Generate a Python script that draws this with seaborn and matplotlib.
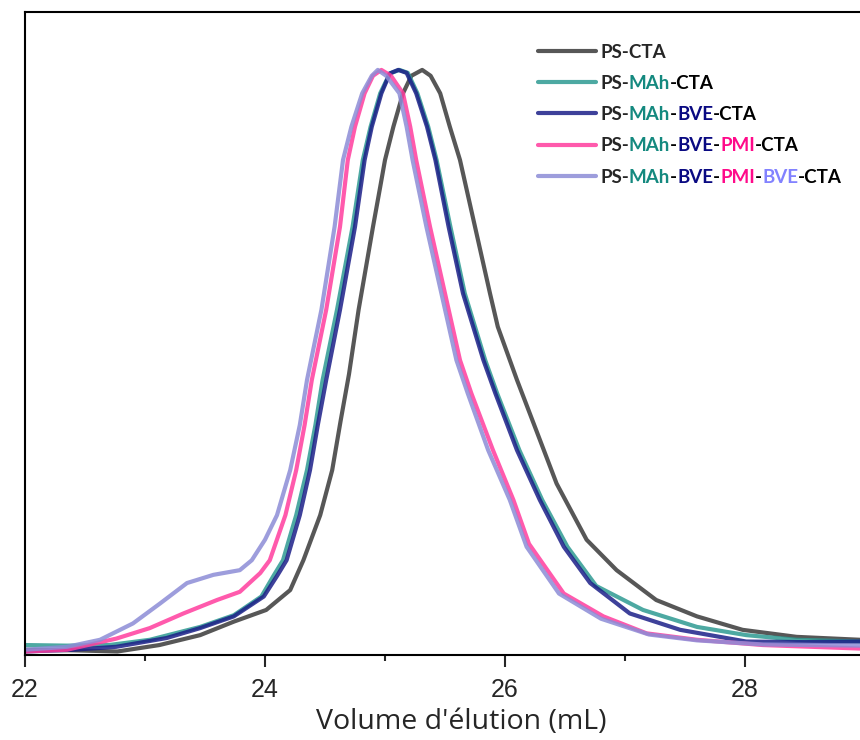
import matplotlib
matplotlib.use("Agg")
import matplotlib.pyplot as plt
from matplotlib.ticker import MultipleLocator
import seaborn as sns

# Chromatogrammes SEC (volume en mL, intensité normalisée)
x_ps = [22.0, 22.4, 22.77, 23.12, 23.46, 23.74, 24.01, 24.21, 24.32, 24.46, 24.56, 24.63,
        24.70, 24.78, 24.90, 24.96, 25.0, 25.07, 25.15, 25.22, 25.31, 25.38, 25.46, 25.54,
        25.625, 25.75, 25.875, 25.94, 26.10, 26.24, 26.43, 26.68, 26.93, 27.26, 27.60, 27.98,
        28.43, 28.96]
y_ps = [0.009, 0.008, 0.006, 0.017, 0.034, 0.057, 0.077, 0.111, 0.162, 0.239, 0.316, 0.400,
        0.480, 0.590, 0.732, 0.800, 0.846, 0.903, 0.960, 0.990, 1.0, 0.990, 0.960, 0.903,
        0.846, 0.732, 0.618, 0.561, 0.470, 0.395, 0.293, 0.197, 0.145, 0.094, 0.066, 0.043,
        0.031, 0.026]

x_mah = [22.0, 22.35, 22.7, 23.04, 23.46, 23.74, 23.97, 24.07, 24.15, 24.26, 24.35, 24.42,
         24.48, 24.60, 24.73, 24.815, 24.88, 24.96, 25.04, 25.12, 25.19, 25.27, 25.36, 25.43,
         25.545, 25.665, 25.835, 25.935, 26.12, 26.31, 26.52, 26.76, 27.15, 27.60, 28.01,
         28.43, 28.96]
y_mah = [0.017, 0.016, 0.017, 0.026, 0.048, 0.068, 0.100, 0.135, 0.162, 0.239, 0.316, 0.393,
         0.470, 0.590, 0.732, 0.846, 0.903, 0.960, 0.994, 1.0, 0.995, 0.960, 0.903, 0.846,
         0.732, 0.618, 0.504, 0.447, 0.350, 0.265, 0.185, 0.118, 0.077, 0.048, 0.034, 0.026,
         0.023]

x_bve = [22.0, 22.4, 22.76, 23.18, 23.46, 23.74, 23.99, 24.10, 24.18, 24.29, 24.375, 24.44,
         24.51, 24.625, 24.75, 24.83, 24.89, 24.97, 25.04, 25.11, 25.18, 25.26, 25.35, 25.42,
         25.53, 25.65, 25.82, 25.92, 26.10, 26.29, 26.49, 26.71, 27.04, 27.46, 28.01, 28.5,
         28.96]
y_bve = [0.006, 0.009, 0.014, 0.029, 0.046, 0.066, 0.100, 0.135, 0.162, 0.239, 0.316, 0.393,
         0.470, 0.590, 0.732, 0.846, 0.903, 0.960, 0.994, 1.0, 0.995, 0.960, 0.903, 0.846,
         0.732, 0.618, 0.504, 0.447, 0.350, 0.265, 0.185, 0.123, 0.071, 0.043, 0.023, 0.022,
         0.023]

x_pmi = [22.0, 22.35, 22.76, 23.04, 23.32, 23.60, 23.79, 23.96, 24.04, 24.17, 24.26, 24.33,
         24.39, 24.51, 24.625, 24.69, 24.75, 24.83, 24.90, 24.97, 25.05, 25.15, 25.21, 25.26,
         25.375, 25.50, 25.625, 25.72, 25.90, 26.07, 26.20, 26.49, 26.82, 27.18, 27.60, 28.15,
         28.96]
y_pmi = [0.006, 0.009, 0.028, 0.046, 0.071, 0.094, 0.108, 0.140, 0.162, 0.239, 0.316, 0.393,
         0.470, 0.590, 0.732, 0.846, 0.903, 0.960, 0.990, 1.0, 0.990, 0.960, 0.903, 0.846,
         0.732, 0.618, 0.504, 0.447, 0.350, 0.265, 0.190, 0.105, 0.066, 0.037, 0.026, 0.017,
         0.011]

x_bve2 = [22.0, 22.35, 22.625, 22.90, 23.125, 23.35, 23.57, 23.79, 23.89, 24.0, 24.10, 24.21,
          24.29, 24.35, 24.47, 24.58, 24.65, 24.72, 24.81, 24.89, 24.94, 25.01, 25.12, 25.18,
          25.23, 25.345, 25.47, 25.595, 25.69, 25.86, 26.04, 26.18, 26.45, 26.80, 27.20, 27.60,
          28.15, 28.96]
y_bve2 = [0.009, 0.014, 0.026, 0.054, 0.088, 0.123, 0.137, 0.145, 0.162, 0.197, 0.239, 0.316,
          0.393, 0.470, 0.590, 0.732, 0.846, 0.903, 0.960, 0.990, 1.0, 0.990, 0.960, 0.903,
          0.846, 0.732, 0.618, 0.504, 0.447, 0.350, 0.265, 0.185, 0.105, 0.062, 0.035, 0.025,
          0.018, 0.016]

series = [(x_ps, y_ps), (x_mah, y_mah), (x_bve, y_bve), (x_pmi, y_pmi), (x_bve2, y_bve2)]
couleurs = ["#3a3a3a", "#2e9a92", "#1c1f88", "#ff3d9e", "#8c8cd6"]

# morceaux colorés des étiquettes de légende
TEAL, NAVY, ROSE, LAV = "#14897f", "#0a0a82", "#ff0a8a", "#8282ff"
etiquettes = [
    [("PS-CTA", "black")],
    [("PS-", "black"), ("MAh", TEAL), ("-CTA", "black")],
    [("PS-", "black"), ("MAh", TEAL), ("-", "black"), ("BVE", NAVY), ("-CTA", "black")],
    [("PS-", "black"), ("MAh", TEAL), ("-", "black"), ("BVE", NAVY), ("-", "black"),
     ("PMI", ROSE), ("-CTA", "black")],
    [("PS-", "black"), ("MAh", TEAL), ("-", "black"), ("BVE", NAVY), ("-", "black"),
     ("PMI", ROSE), ("-", "black"), ("BVE", LAV), ("-CTA", "black")],
]

sns.set_style("ticks")
plt.rcParams['font.family'] = ['Liberation Sans', 'DejaVu Sans']

fig = plt.figure(figsize=(8.6, 7.4), dpi=100)
ax = fig.add_axes([25 / 860, 85 / 740, 840 / 860, 643 / 740])

for (xs, ys), c in zip(series, couleurs):
    sns.lineplot(x=xs, y=ys, ax=ax, color=c, lw=3, alpha=0.85, sort=False)

ax.set_xlim(22, 29)
ax.set_ylim(0, 1.099)
ax.set_yticks([])
ax.xaxis.set_major_locator(MultipleLocator(2))
ax.xaxis.set_minor_locator(MultipleLocator(1))
ax.tick_params(axis="x", which="major", length=8.5, width=1.5, pad=8, labelsize=18)
ax.tick_params(axis="x", which="minor", length=4.5, width=1.5)
for s in ax.spines.values():
    s.set_linewidth(1.5)
    s.set_color("black")

ax.set_xlabel("Volume d'élution (mL)", fontsize=20.5, family="Open Sans")
ax.xaxis.set_label_coords(0.519, -0.083)

police = dict(family="Lato", weight="bold", size=13.5)
leg = ax.legend(ax.lines, [e[0][0] for e in etiquettes], loc="upper left",
                bbox_to_anchor=(0.611, 0.951), frameon=False, prop=police,
                handlelength=3.1, handletextpad=0.2, labelspacing=0.76,
                borderpad=0, borderaxespad=0)

for txt, morceaux in zip(leg.get_texts(), etiquettes):
    prec = txt
    for mot, col in morceaux[1:]:
        prec = ax.annotate(mot, xy=(1, 0), xycoords=prec, va="bottom", ha="left",
                           color=col, fontfamily="Lato", fontweight="bold",
                           fontsize=13.5, zorder=10, annotation_clip=False)

fig.savefig("out.png", dpi=100)
